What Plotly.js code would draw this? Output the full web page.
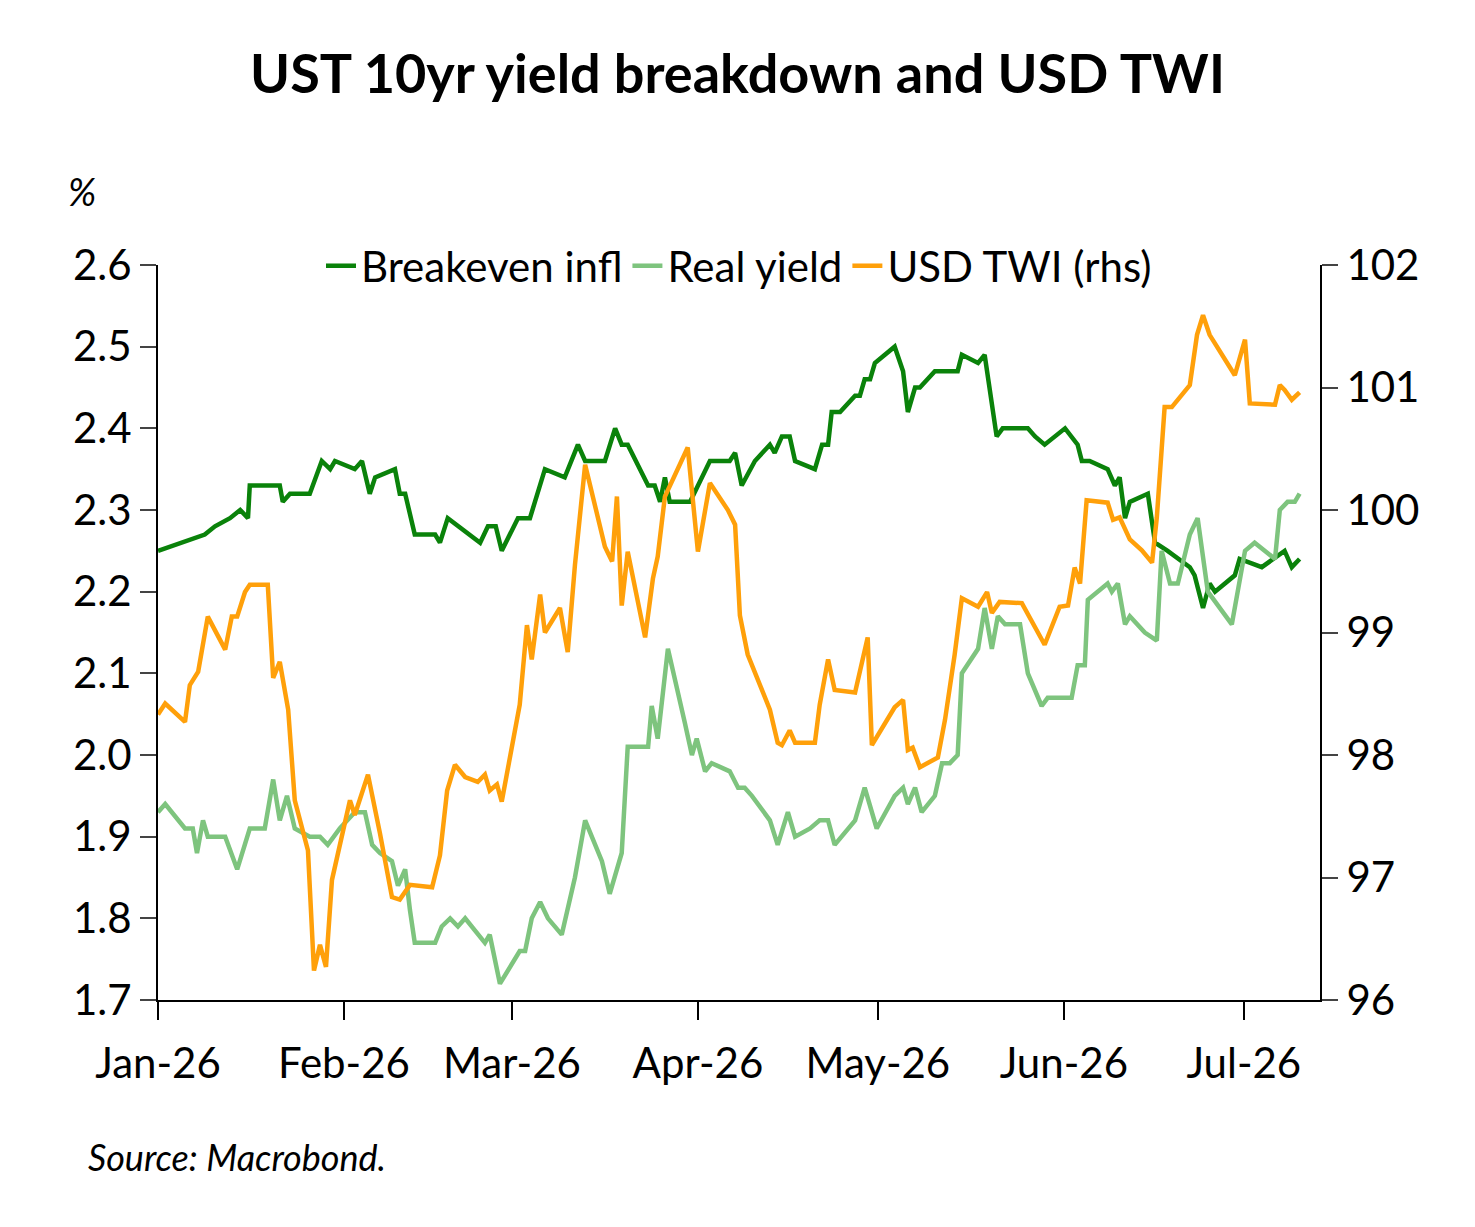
<!DOCTYPE html>
<html><head><meta charset="utf-8">
<script src="https://cdn.plot.ly/plotly-3.0.1.min.js"></script>
<style>body{margin:0;background:#fff}</style></head>
<body><div id="chart" style="width:1475px;height:1227px"></div>
<script>
// days since 1 Jan 2026
const beDays=[0,3.7,7.8,9.5,12,13.7,15,15.3,20.3,20.8,22,25.3,27.3,28.7,29.5,32.8,34,35.3,36.2,39.5,40.3,41.2,42.8,46.2,47,48.3,52,53.7,55,56.3,57.3,60,62,64.5,67.8,70,71.2,74.5,76.2,77.3,78.3,81.7,82.8,83.7,84.5,85.3,88.7,92,95.3,96.2,97.3,99.5,102,102.8,104,105.3,106.2,109.5,110.7,111.7,112.3,113.7,116.2,117,117.8,118.7,119.5,122.8,124.2,125,126.2,127,129.5,133.3,134,136.7,137.8,139.8,140.8,145,146.2,147.8,151.2,153.3,154,155.3,158.3,159.5,160.3,161.2,162,165,166.2,168.3,172,172.8,174.2,175.3,176.2,179.5,180.3,184,187.8,189,190.3];
const beVals=[2.25,2.26,2.27,2.28,2.29,2.30,2.29,2.33,2.33,2.31,2.32,2.32,2.36,2.35,2.36,2.35,2.36,2.32,2.34,2.35,2.32,2.32,2.27,2.27,2.26,2.29,2.27,2.26,2.28,2.28,2.25,2.29,2.29,2.35,2.34,2.38,2.36,2.36,2.40,2.38,2.38,2.33,2.33,2.31,2.34,2.31,2.31,2.36,2.36,2.37,2.33,2.36,2.38,2.37,2.39,2.39,2.36,2.35,2.38,2.38,2.42,2.42,2.44,2.44,2.46,2.46,2.48,2.50,2.47,2.42,2.45,2.45,2.47,2.47,2.49,2.48,2.49,2.39,2.40,2.40,2.39,2.38,2.40,2.38,2.36,2.36,2.35,2.33,2.34,2.29,2.31,2.32,2.26,2.25,2.23,2.22,2.18,2.21,2.20,2.22,2.24,2.23,2.25,2.23,2.24];
const ryDays=[0,1.2,4.5,5.8,6.5,7.5,8.3,11.2,13.2,15.3,17.8,19.2,20.3,21.5,22.8,25.3,27,28.3,30.3,32.8,34.5,35.7,37,39,40,41.2,42,42.8,46.2,47.3,48.7,50,51.2,53.3,54.5,55.3,57,60.3,61.2,62.3,63.7,65,67.3,69.5,71.2,74,75.3,77.3,78.3,81.7,82.3,83.3,85,87.8,89,89.8,91.2,92.3,95.3,96.7,97.8,99,102,103.3,105,106.2,108.7,110.3,111.7,112.8,116.2,117.8,119.8,122.8,124.2,125,126.2,127.3,129.5,130.7,132,133.3,134,136.7,137.8,139,140,141.2,143.7,145,146.2,147.3,148.3,152.3,153.3,154.5,155,158.3,159,160,161.2,162,164.5,166.5,167.3,168.7,170,172,173.3,175,179,180.3,181.2,182.8,184.5,186.2,187,188.3,189.5,190.3];
const ryVals=[1.93,1.94,1.91,1.91,1.88,1.92,1.90,1.90,1.86,1.91,1.91,1.97,1.92,1.95,1.91,1.90,1.90,1.89,1.91,1.93,1.93,1.89,1.88,1.87,1.84,1.86,1.81,1.77,1.77,1.79,1.80,1.79,1.80,1.78,1.77,1.78,1.72,1.76,1.76,1.80,1.82,1.80,1.78,1.85,1.92,1.87,1.83,1.88,2.01,2.01,2.06,2.02,2.13,2.04,2.00,2.02,1.98,1.99,1.98,1.96,1.96,1.95,1.92,1.89,1.93,1.90,1.91,1.92,1.92,1.89,1.92,1.96,1.91,1.95,1.96,1.94,1.96,1.93,1.95,1.99,1.99,2.00,2.10,2.13,2.18,2.13,2.17,2.16,2.16,2.10,2.08,2.06,2.07,2.07,2.11,2.11,2.19,2.21,2.20,2.21,2.16,2.17,2.15,2.14,2.25,2.21,2.21,2.27,2.29,2.20,2.16,2.21,2.25,2.26,2.25,2.24,2.30,2.31,2.31,2.32];
const usdDays=[0,1.2,4.5,5.3,6.7,8.3,11.2,12.3,13.2,14.5,15.3,18.3,19.2,20.3,21.7,22.8,25,26,27,28,29,32,32.8,35,37,39,40.3,42,45.7,47,48.2,49.5,51.2,53.3,54.5,55.3,56.5,57.3,60.3,61.5,62.3,63.7,64.5,67,68.3,69.5,71.2,74.5,75.7,76.5,77.3,78.3,81.2,82.5,83.3,84.5,88.3,90,92,95,96.2,97,98.3,100,102,103.3,104,105.3,106.2,109.5,110.3,111.7,112.8,116.2,117.3,118.3,119,122.8,124.2,125,125.8,127,130,131.2,132.8,134,136.7,138.2,139,140.3,144,145.7,147.8,150.3,151.7,152.8,153.7,154.8,158.3,159.2,160.3,162,164,165.7,166.5,167.8,169,172,173.2,174.2,175.3,179.5,181.2,182,186.2,187,187.8,189,190.3];
const usdVals=[98.33,98.42,98.27,98.57,98.68,99.13,98.86,99.13,99.13,99.33,99.39,99.39,98.63,98.76,98.37,97.63,97.22,96.24,96.45,96.27,96.98,97.63,97.51,97.84,97.36,96.84,96.82,96.94,96.92,97.18,97.71,97.92,97.82,97.78,97.84,97.71,97.76,97.62,98.41,99.06,98.78,99.31,99.0,99.2,98.84,99.55,100.37,99.70,99.58,100.11,99.22,99.66,98.96,99.44,99.62,100.11,100.51,99.66,100.22,100.0,99.88,99.14,98.82,98.61,98.37,98.10,98.08,98.20,98.10,98.10,98.41,98.78,98.53,98.51,98.73,98.96,98.08,98.39,98.45,98.04,98.06,97.90,97.98,98.29,98.82,99.28,99.21,99.33,99.16,99.25,99.24,99.08,98.90,99.21,99.22,99.53,99.40,100.08,100.06,99.92,99.94,99.76,99.67,99.57,99.94,100.84,100.84,101.02,101.43,101.59,101.43,101.10,101.39,100.87,100.86,101.02,100.98,100.90,100.96];
const monthTicks=['2026-01-01','2026-02-01','2026-03-01','2026-04-01','2026-05-01','2026-06-01','2026-07-01'];
const monthLabels=['Jan-26','Feb-26','Mar-26','Apr-26','May-26','Jun-26','Jul-26'];
const base=Date.UTC(2026,0,1);
const toDate=a=>a.map(d=>new Date(base+d*864e5).toISOString());
const F="Lato, 'Open Sans', sans-serif";
const data=[
 {x:toDate(beDays),y:beVals,type:'scatter',mode:'lines',name:'Breakeven infl',line:{color:'#0a820a',width:4.5}},
 {x:toDate(ryDays),y:ryVals,type:'scatter',mode:'lines',name:'Real yield',line:{color:'#7ec47e',width:4.5}},
 {x:toDate(usdDays),y:usdVals,type:'scatter',mode:'lines',name:'USD TWI (rhs)',yaxis:'y2',line:{color:'#ffa00a',width:4.5}}
];
const layout={
 width:1475,height:1227,paper_bgcolor:'#fff',plot_bgcolor:'#fff',
 margin:{l:158,r:155,t:265,b:227},
 font:{family:F,size:42,color:'#000'},
 title:{text:'<b>UST 10yr yield breakdown and USD TWI</b>',x:0.5,xanchor:'center',y:0.94,yanchor:'middle',font:{size:54,family:F}},
 showlegend:true,
 legend:{orientation:'h',x:0.5,xanchor:'center',y:1.045,yanchor:'top',font:{size:42},bgcolor:'rgba(0,0,0,0)',tracegroupgap:0},
 xaxis:{type:'date',range:[new Date(base).toISOString(),new Date(base+193.7*864e5).toISOString()],tickvals:monthTicks,ticktext:monthLabels,showgrid:false,showline:true,linecolor:'#000',linewidth:2,ticks:'outside',ticklen:18,tickwidth:2,tickcolor:'#000',tickfont:{size:42},ticklabelstandoff:8,zeroline:false},
 yaxis:{range:[1.7,2.6],dtick:0.1,tickformat:'.1f',showgrid:false,showline:true,linecolor:'#000',linewidth:2,ticks:'outside',ticklen:16,tickwidth:2,zeroline:false,tickfont:{size:42}},
 yaxis2:{range:[96,102],dtick:1,overlaying:'y',side:'right',showgrid:false,showline:true,linecolor:'#000',linewidth:2,ticks:'outside',ticklen:16,tickwidth:2,zeroline:false,tickfont:{size:42}},
 annotations:[
  {text:'<i>%</i>',xref:'paper',yref:'paper',x:-0.065,y:1.1,xanchor:'center',yanchor:'middle',showarrow:false,font:{size:38}},
  {text:'<i>Source: Macrobond.</i>',xref:'paper',yref:'paper',x:-0.062,y:-0.213,xanchor:'left',yanchor:'middle',showarrow:false,font:{size:36}}
 ]
};
Plotly.newPlot('chart',data,layout,{displayModeBar:false});
</script></body></html>
